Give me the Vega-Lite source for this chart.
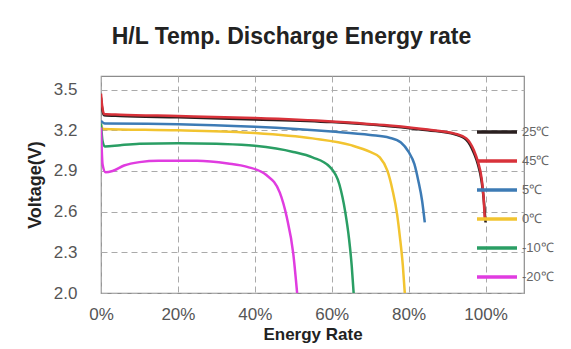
{
  "$schema": "https://vega.github.io/schema/vega-lite/v6.json",
  "autosize": {"type": "none"},
  "padding": {"left": 101, "top": 76, "right": 47, "bottom": 56},
  "width": 423,
  "height": 217,
  "background": "white",
  "title": {"text": "H/L Temp. Discharge Energy rate", "font": "Liberation Sans", "fontSize": 23, "fontWeight": "bold", "color": "#222", "offset": 27, "anchor": "middle", "dx": -21},
  "config": {
    "view": {"stroke": "#8c8c8c", "strokeWidth": 1.2},
    "axis": {"grid": true, "labelFont": "Liberation Sans", "labelColor": "#555", "labelFontSize": 17, "titleFont": "Liberation Sans", "titleColor": "#222", "titleFontWeight": "bold", "gridColor": "#aaaaaa", "gridDash": [6, 4], "gridWidth": 1, "gridOpacity": 1, "domain": false, "ticks": false, "labelFlush": false}
  },
  "data": {"values": [
    {"t": "25℃", "x": 0.000, "v": 3.44}, {"t": "25℃", "x": 0.003, "v": 3.36}, {"t": "25℃", "x": 0.008, "v": 3.31},
    {"t": "25℃", "x": 0.05, "v": 3.305}, {"t": "25℃", "x": 0.2, "v": 3.295}, {"t": "25℃", "x": 0.4, "v": 3.28},
    {"t": "25℃", "x": 0.6, "v": 3.26}, {"t": "25℃", "x": 0.75, "v": 3.23}, {"t": "25℃", "x": 0.85, "v": 3.2},
    {"t": "25℃", "x": 0.92, "v": 3.17}, {"t": "25℃", "x": 0.95, "v": 3.13}, {"t": "25℃", "x": 0.97, "v": 3.03},
    {"t": "25℃", "x": 0.98, "v": 2.95}, {"t": "25℃", "x": 0.99, "v": 2.82}, {"t": "25℃", "x": 0.995, "v": 2.7},
    {"t": "25℃", "x": 1.0, "v": 2.52},
    {"t": "45℃", "x": 0.000, "v": 3.47}, {"t": "45℃", "x": 0.003, "v": 3.38}, {"t": "45℃", "x": 0.008, "v": 3.32},
    {"t": "45℃", "x": 0.05, "v": 3.315}, {"t": "45℃", "x": 0.2, "v": 3.305}, {"t": "45℃", "x": 0.4, "v": 3.29},
    {"t": "45℃", "x": 0.6, "v": 3.265}, {"t": "45℃", "x": 0.75, "v": 3.235}, {"t": "45℃", "x": 0.85, "v": 3.205},
    {"t": "45℃", "x": 0.92, "v": 3.175}, {"t": "45℃", "x": 0.95, "v": 3.14}, {"t": "45℃", "x": 0.97, "v": 3.05},
    {"t": "45℃", "x": 0.98, "v": 2.97}, {"t": "45℃", "x": 0.99, "v": 2.84}, {"t": "45℃", "x": 0.995, "v": 2.7},
    {"t": "45℃", "x": 0.998, "v": 2.55},
    {"t": "5℃", "x": 0.0, "v": 3.27}, {"t": "5℃", "x": 0.01, "v": 3.25}, {"t": "5℃", "x": 0.2, "v": 3.245},
    {"t": "5℃", "x": 0.4, "v": 3.225}, {"t": "5℃", "x": 0.6, "v": 3.19}, {"t": "5℃", "x": 0.7, "v": 3.165},
    {"t": "5℃", "x": 0.75, "v": 3.145}, {"t": "5℃", "x": 0.78, "v": 3.11}, {"t": "5℃", "x": 0.8, "v": 3.04},
    {"t": "5℃", "x": 0.815, "v": 2.95}, {"t": "5℃", "x": 0.825, "v": 2.83}, {"t": "5℃", "x": 0.835, "v": 2.68},
    {"t": "5℃", "x": 0.842, "v": 2.52},
    {"t": "0℃", "x": 0.0, "v": 3.24}, {"t": "0℃", "x": 0.005, "v": 3.21}, {"t": "0℃", "x": 0.2, "v": 3.2},
    {"t": "0℃", "x": 0.4, "v": 3.18}, {"t": "0℃", "x": 0.55, "v": 3.14}, {"t": "0℃", "x": 0.65, "v": 3.09},
    {"t": "0℃", "x": 0.7, "v": 3.04}, {"t": "0℃", "x": 0.725, "v": 3.0}, {"t": "0℃", "x": 0.745, "v": 2.9},
    {"t": "0℃", "x": 0.758, "v": 2.76}, {"t": "0℃", "x": 0.77, "v": 2.58}, {"t": "0℃", "x": 0.777, "v": 2.42},
    {"t": "0℃", "x": 0.785, "v": 2.2}, {"t": "0℃", "x": 0.79, "v": 2.0},
    {"t": "-10℃", "x": 0.0, "v": 3.25}, {"t": "-10℃", "x": 0.004, "v": 3.12}, {"t": "-10℃", "x": 0.01, "v": 3.08},
    {"t": "-10℃", "x": 0.05, "v": 3.09}, {"t": "-10℃", "x": 0.1, "v": 3.1}, {"t": "-10℃", "x": 0.2, "v": 3.105},
    {"t": "-10℃", "x": 0.3, "v": 3.1}, {"t": "-10℃", "x": 0.4, "v": 3.085}, {"t": "-10℃", "x": 0.5, "v": 3.04},
    {"t": "-10℃", "x": 0.55, "v": 3.0}, {"t": "-10℃", "x": 0.595, "v": 2.93}, {"t": "-10℃", "x": 0.62, "v": 2.8},
    {"t": "-10℃", "x": 0.635, "v": 2.6}, {"t": "-10℃", "x": 0.645, "v": 2.4}, {"t": "-10℃", "x": 0.652, "v": 2.2},
    {"t": "-10℃", "x": 0.657, "v": 2.0},
    {"t": "-20℃", "x": 0.0, "v": 3.22}, {"t": "-20℃", "x": 0.004, "v": 2.95}, {"t": "-20℃", "x": 0.012, "v": 2.89},
    {"t": "-20℃", "x": 0.03, "v": 2.9}, {"t": "-20℃", "x": 0.06, "v": 2.94}, {"t": "-20℃", "x": 0.1, "v": 2.965},
    {"t": "-20℃", "x": 0.15, "v": 2.975}, {"t": "-20℃", "x": 0.25, "v": 2.975}, {"t": "-20℃", "x": 0.33, "v": 2.955},
    {"t": "-20℃", "x": 0.38, "v": 2.93}, {"t": "-20℃", "x": 0.43, "v": 2.87}, {"t": "-20℃", "x": 0.465, "v": 2.74},
    {"t": "-20℃", "x": 0.483, "v": 2.56}, {"t": "-20℃", "x": 0.5, "v": 2.29}, {"t": "-20℃", "x": 0.51, "v": 2.0}
  ]},
  "mark": {"type": "line", "strokeWidth": 2.5, "interpolate": "monotone", "clip": true},
  "encoding": {
    "x": {"field": "x", "type": "quantitative", "scale": {"domain": [0, 1.1], "nice": false},
      "axis": {"grid": true, "gridColor": "#aaaaaa", "gridDash": [6, 4], "values": [0, 0.2, 0.4, 0.6, 0.8, 1.0], "format": ".0%", "title": "Energy Rate", "titleFontSize": 17, "labelPadding": 13, "titlePadding": 4}},
    "y": {"field": "v", "type": "quantitative", "scale": {"domain": [2.0, 3.6], "nice": false, "zero": false},
      "axis": {"grid": true, "gridColor": "#aaaaaa", "gridDash": [6, 4], "values": [2.0, 2.3, 2.6, 2.9, 3.2, 3.5], "format": ".1f", "title": "Voltage(V)", "titleFontSize": 18, "labelPadding": 24, "titlePadding": 9}},
    "color": {"field": "t", "type": "nominal",
      "scale": {"domain": ["25℃", "45℃", "5℃", "0℃", "-10℃", "-20℃"], "range": ["#2a1f1f", "#d8323a", "#3d7bb5", "#f2c430", "#2a9e64", "#e03ce0"]},
      "legend": {"title": null, "orient": "none", "legendX": 374, "legendY": 34, "symbolType": "stroke", "symbolSize": 1600, "symbolStrokeWidth": 3.5, "rowPadding": -10, "labelFont": "Liberation Sans", "labelFontSize": 13, "labelColor": "#666", "labelOffset": 3, "padding": 0}},
    "order": {"field": "x", "type": "quantitative"}
  }
}
